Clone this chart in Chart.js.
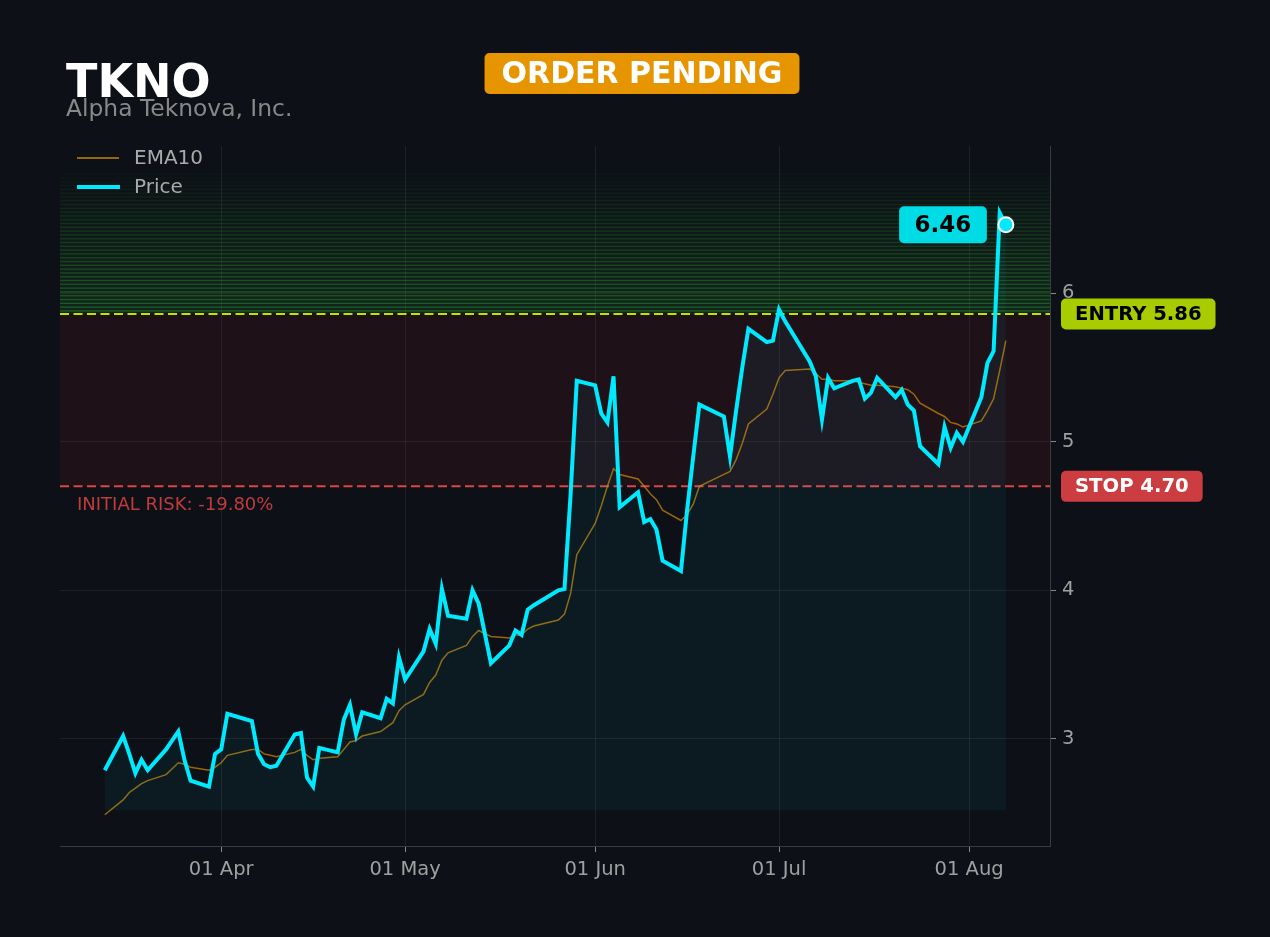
<!DOCTYPE html>
<html>
<head>
<meta charset="utf-8">
<script src="https://cdn.jsdelivr.net/npm/chart.js@4.4.1/dist/chart.umd.min.js"></script>
<style>
  html, body { margin: 0; padding: 0; background: #0d1017; }
  #wrap { width: 1270px; height: 937px; }
</style>
</head>
<body>
<div id="wrap"><canvas id="chart" width="1270" height="937"></canvas></div>
<script>
// trading days (2026, MM-DD)
const dates = [
  '03-13','03-16','03-17','03-18','03-19','03-20','03-23','03-24','03-25','03-26','03-27','03-30','03-31',
  '04-01','04-02','04-06','04-07','04-08','04-09','04-10','04-13','04-14','04-15','04-16','04-17','04-20','04-21','04-22','04-23','04-24','04-27','04-28','04-29','04-30',
  '05-01','05-04','05-05','05-06','05-07','05-08','05-11','05-12','05-13','05-14','05-15','05-18','05-19','05-20','05-21','05-22','05-26','05-27','05-28','05-29',
  '06-01','06-02','06-03','06-04','06-05','06-08','06-09','06-10','06-11','06-12','06-15','06-16','06-17','06-18','06-22','06-23','06-24','06-25','06-26','06-29','06-30',
  '07-01','07-02','07-06','07-07','07-08','07-09','07-10','07-13','07-14','07-15','07-16','07-17','07-20','07-21','07-22','07-23','07-24','07-27','07-28','07-29','07-30','07-31',
  '08-03','08-04','08-05','08-06','08-07'
];
const price = [
  2.79, 3.02, 2.90, 2.77, 2.86, 2.79, 2.93, 2.99, 3.05, 2.86, 2.72, 2.68, 2.90,
  2.93, 3.17, 3.12, 2.90, 2.83, 2.81, 2.82, 3.03, 3.04, 2.74, 2.68, 2.94, 2.91, 3.13, 3.23, 3.03, 3.18, 3.14, 3.27, 3.24, 3.55,
  3.40, 3.59, 3.74, 3.64, 4.01, 3.83, 3.81, 4.00, 3.91, 3.71, 3.51, 3.63, 3.73, 3.70, 3.87, 3.90, 4.00, 4.01, 4.65, 5.41,
  5.38, 5.19, 5.13, 5.44, 4.56, 4.66, 4.46, 4.48, 4.41, 4.20, 4.13, 4.54, 4.90, 5.25, 5.17, 4.90, 5.21, 5.50, 5.76, 5.67, 5.68,
  5.89, 5.81, 5.54, 5.44, 5.15, 5.43, 5.36, 5.41, 5.42, 5.29, 5.33, 5.43, 5.30, 5.35, 5.25, 5.21, 4.97, 4.85, 5.10, 4.96, 5.06, 5.00,
  5.30, 5.53, 5.61, 6.54, 6.46
];
const ema10 = [
  2.49, 2.59, 2.64, 2.67, 2.70, 2.72, 2.76, 2.80, 2.84, 2.83, 2.81, 2.79, 2.81,
  2.84, 2.89, 2.93, 2.93, 2.90, 2.89, 2.88, 2.91, 2.93, 2.89, 2.86, 2.87, 2.88, 2.93, 2.98, 2.99, 3.02, 3.05, 3.08, 3.11, 3.19,
  3.23, 3.30, 3.38, 3.43, 3.53, 3.58, 3.63, 3.69, 3.73, 3.71, 3.69, 3.68, 3.70, 3.70, 3.74, 3.76, 3.80, 3.84, 3.98, 4.24,
  4.45, 4.57, 4.70, 4.82, 4.78, 4.75, 4.70, 4.65, 4.61, 4.54, 4.47, 4.51, 4.58, 4.70, 4.78, 4.80, 4.88, 4.99, 5.12, 5.22, 5.32,
  5.43, 5.48, 5.49, 5.46, 5.42, 5.42, 5.41, 5.41, 5.40, 5.39, 5.38, 5.38, 5.37, 5.36, 5.35, 5.32, 5.26, 5.19, 5.17, 5.13, 5.12, 5.10,
  5.14, 5.21, 5.29, 5.48, 5.68
];
const tickDates = ['04-01', '05-01', '06-01', '07-01', '08-01'];
const tickLabels = ['01 Apr', '01 May', '01 Jun', '01 Jul', '01 Aug'];
const yTicks = [3, 4, 5, 6];

const ticker = 'TKNO';
const company = 'Alpha Teknova, Inc.';
const status = 'ORDER PENDING';
const entry = 5.86;
const stop = 4.70;
const target = 6.78; // top of green zone

const CYAN = '#00eaff';
const EMA_COLOR = 'rgba(210,140,10,0.7)';
const FONT = 'DejaVu Sans';

// day offset from 01 Apr
const dayOf = s => {
    const [m, d] = s.split('-').map(Number);
    return (Date.UTC(2026, m - 1, d) - Date.UTC(2026, 3, 1)) / 864e5;
};
const xs = dates.map(dayOf);
const last = price.length - 1;

function rr(ctx, x, y, w, h, r, color) {
    ctx.beginPath();
    ctx.roundRect(x, y, w, h, r);
    ctx.fillStyle = color;
    ctx.fill();
}

const zones = {
    id: 'zones',
    beforeDatasetsDraw(chart) {
        const { ctx, chartArea: a, scales: { y } } = chart;
        const yE = y.getPixelForValue(entry), yS = y.getPixelForValue(stop), yT = y.getPixelForValue(target);
        ctx.save();
        ctx.beginPath();
        ctx.rect(a.left, a.top, a.width, a.height);
        ctx.clip();
        // risk zone
        ctx.fillStyle = 'rgba(220,40,40,0.085)';
        ctx.fillRect(a.left, yE, a.width, yS - yE);
        // green zone, striped fade
        const g = ctx.createLinearGradient(0, yT - 15, 0, yE);
        g.addColorStop(0, 'rgba(40,150,50,0)');
        g.addColorStop(1, 'rgba(40,150,50,0.16)');
        ctx.fillStyle = g;
        ctx.fillRect(a.left, yT - 15, a.width, yE - yT + 15);
        for (let yy = yE - 3; yy > yT - 15; yy -= 3.8) {
            const t = Math.max(0, (yy - yT + 15) / (yE - yT + 15));
            ctx.fillStyle = `rgba(50,170,50,${0.42 * t})`;
            ctx.fillRect(a.left, yy - 0.7, a.width, 1.4);
        }
        // entry / stop lines
        ctx.setLineDash([9, 4.5]);
        ctx.lineWidth = 2;
        ctx.strokeStyle = '#c6e000';
        ctx.beginPath(); ctx.moveTo(a.left, yE); ctx.lineTo(a.right, yE); ctx.stroke();
        ctx.strokeStyle = '#dc4646';
        ctx.beginPath(); ctx.moveTo(a.left, yS); ctx.lineTo(a.right, yS); ctx.stroke();
        ctx.setLineDash([]);
        // initial risk text
        const risk = (stop - entry) / entry * 100;
        ctx.font = `18px ${FONT}`;
        ctx.fillStyle = '#c03c3c';
        ctx.textBaseline = 'alphabetic';
        ctx.fillText(`INITIAL RISK: ${risk.toFixed(2)}%`, a.left + 17, yS + 24);
        ctx.restore();
    }
};

const overlay = {
    id: 'overlay',
    afterDraw(chart) {
        const { ctx, chartArea: a, scales: { x, y } } = chart;
        ctx.save();
        // header
        ctx.textBaseline = 'alphabetic';
        ctx.textAlign = 'left';
        ctx.fillStyle = '#ffffff';
        ctx.font = `bold 46px ${FONT}`;
        ctx.fillText(ticker, 66, 97);
        ctx.fillStyle = '#888888';
        ctx.font = `23.4px ${FONT}`;
        ctx.fillText(company, 66, 116);

        ctx.font = `bold 30px ${FONT}`;
        const bw = ctx.measureText(status).width + 34;
        rr(ctx, 642 - bw / 2, 53, bw, 41, 5, '#e69500');
        ctx.fillStyle = '#ffffff';
        ctx.textAlign = 'center';
        ctx.textBaseline = 'middle';
        ctx.fillText(status, 642, 75);

        // legend
        ctx.textAlign = 'left';
        ctx.font = `20px ${FONT}`;
        ctx.lineCap = 'butt';
        ctx.strokeStyle = EMA_COLOR; ctx.lineWidth = 2;
        ctx.beginPath(); ctx.moveTo(77, 158); ctx.lineTo(119, 158); ctx.stroke();
        ctx.strokeStyle = CYAN; ctx.lineWidth = 4;
        ctx.beginPath(); ctx.moveTo(77, 187); ctx.lineTo(120, 187); ctx.stroke();
        ctx.fillStyle = '#aaaaaa';
        ctx.fillText('EMA10', 134, 159);
        ctx.fillText('Price', 134, 188);

        // level tags on the right
        ctx.font = `bold 19.6px ${FONT}`;
        const tag = (text, val, bg, fg) => {
            const py = y.getPixelForValue(val);
            const w = ctx.measureText(text).width + 28;
            rr(ctx, a.right + 11, py - 15.5, w, 31, 5, bg);
            ctx.fillStyle = fg;
            ctx.fillText(text, a.right + 25, py + 1);
        };
        tag(`ENTRY ${entry.toFixed(2)}`, entry, '#a8cc00', '#000000');
        tag(`STOP ${stop.toFixed(2)}`, stop, '#cc3d42', '#ffffff');

        // last price tag
        const px = x.getPixelForValue(xs[last]), py = y.getPixelForValue(price[last]);
        ctx.font = `bold 23px ${FONT}`;
        const lt = price[last].toFixed(2);
        const lw = ctx.measureText(lt).width + 31;
        rr(ctx, px - 19 - lw, py - 18.5, lw, 37, 5, '#00dce6');
        ctx.fillStyle = '#000000';
        ctx.textAlign = 'center';
        ctx.fillText(lt, px - 19 - lw / 2, py + 1);
        ctx.restore();
    }
};

Chart.defaults.font.family = FONT;

new Chart(document.getElementById('chart'), {
    type: 'line',
    data: {
        datasets: [{
            label: 'Price',
            data: xs.map((d, i) => ({ x: d, y: price[i] })),
            borderColor: CYAN,
            borderWidth: 4,
            backgroundColor: 'rgba(0,230,255,0.05)',
            fill: { value: 2.52 },
            tension: 0,
            pointRadius: c => c.dataIndex === last ? 7.5 : 0,
            pointHoverRadius: c => c.dataIndex === last ? 7.5 : 0,
            pointBackgroundColor: CYAN,
            pointBorderColor: '#ffffff',
            pointBorderWidth: 2
        }, {
            label: 'EMA10',
            data: xs.map((d, i) => ({ x: d, y: ema10[i] })),
            borderColor: EMA_COLOR,
            borderWidth: 1.5,
            fill: false,
            tension: 0,
            pointRadius: 0
        }]
    },
    options: {
        responsive: false,
        animation: false,
        events: [],
        layout: { padding: { left: 60, top: 146, right: 0, bottom: 0 } },
        plugins: {
            legend: { display: false },
            tooltip: { enabled: false }
        },
        scales: {
            x: {
                type: 'linear',
                min: -26.3,
                max: 135.2,
                afterFit: s => { s.height = 91; },
                afterBuildTicks: s => { s.ticks = tickDates.map(t => ({ value: dayOf(t) })); },
                ticks: {
                    autoSkip: false,
                    maxRotation: 0,
                    padding: 6,
                    color: '#a0a0a0',
                    font: { size: 19.5 },
                    callback: (v, i) => tickLabels[i]
                },
                grid: { color: 'rgba(255,255,255,0.07)', tickLength: 6, tickColor: '#888888' },
                border: { color: '#3c3c3c' }
            },
            y: {
                position: 'right',
                min: 2.28,
                max: 6.99,
                afterFit: s => { s.width = 220; },
                afterBuildTicks: s => { s.ticks = yTicks.map(v => ({ value: v })); },
                ticks: {
                    padding: 6,
                    color: '#a0a0a0',
                    font: { size: 19.5 },
                    callback: v => v
                },
                grid: { color: 'rgba(255,255,255,0.07)', tickLength: 6, tickColor: '#888888' },
                border: { color: '#3c3c3c' }
            }
        }
    },
    plugins: [zones, overlay]
});
</script>
</body>
</html>
